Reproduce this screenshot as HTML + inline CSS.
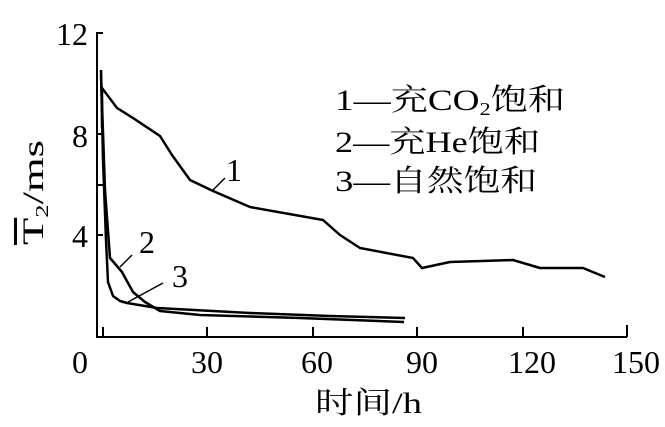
<!DOCTYPE html>
<html><head><meta charset="utf-8"><style>
html,body{margin:0;padding:0;background:#fff;}
svg{display:block;}
text{font-family:"Liberation Serif","Noto Serif CJK SC",serif;fill:#000;}
</style></head><body>
<svg width="665" height="427" viewBox="0 0 665 427" xmlns="http://www.w3.org/2000/svg">
<g stroke="#000" stroke-width="2" fill="none">
<polyline points="103,33 97,33 97,337 627,337"/>
<line x1="97" y1="134" x2="103" y2="134"/>
<line x1="97" y1="185" x2="103" y2="185"/>
<line x1="97" y1="235" x2="103" y2="235"/>
<line x1="103" y1="337" x2="103" y2="327"/>
<line x1="207" y1="337" x2="207" y2="327"/>
<line x1="313" y1="337" x2="313" y2="327"/>
<line x1="417" y1="337" x2="417" y2="327"/>
<line x1="523" y1="337" x2="523" y2="327"/>
<line x1="627" y1="337" x2="627" y2="325"/>
</g>
<g stroke="#000" stroke-width="2.5" fill="none" stroke-linejoin="round">
<polyline points="102,128 102,88 117,108 133,118 160,136 172,155 190,180 213,191 250,207 323,220 340,235 360,248 413,258 422,268 450,262 513,260 540,268 583,268 605,277"/>
<polyline points="101,70 103,160 106,240 108,282 113,296 120,301 127,303 157,308 250,313 330,316 405,318"/>
<polyline points="101,75 105,190 110,258 122,272 128,283 133,292 145,302 160,311 200,315 300,318 404,322"/>
</g>
<g stroke="#000" stroke-width="1.5">
<line x1="213" y1="190" x2="225" y2="178"/>
<line x1="120" y1="267" x2="132" y2="255"/>
<line x1="128" y1="302" x2="163" y2="283"/>
</g>
<g font-size="32">
<text x="88" y="45" text-anchor="end">12</text>
<text x="88" y="147" text-anchor="end">8</text>
<text x="88" y="247" text-anchor="end">4</text>
<text x="80" y="373" text-anchor="middle">0</text>
<text x="207" y="373" text-anchor="middle">30</text>
<text x="317" y="373" text-anchor="middle">60</text>
<text x="422" y="373" text-anchor="middle">90</text>
<text x="532" y="373" text-anchor="middle">120</text>
<text x="636" y="373" text-anchor="middle">150</text>
<text x="226" y="181">1</text>
<text x="139" y="253">2</text>
<text x="172" y="287">3</text>
</g>
<text x="315" y="413" font-size="30" textLength="107" lengthAdjust="spacingAndGlyphs">时间/h</text>
<text transform="translate(43,245) rotate(-90)" font-size="30" textLength="105" lengthAdjust="spacingAndGlyphs"><tspan text-decoration="overline">T</tspan><tspan font-size="18" dy="5">2</tspan><tspan dy="-5">/ms</tspan></text>
<g font-size="30">
<text x="335" y="110" textLength="230" lengthAdjust="spacingAndGlyphs">1—充CO<tspan font-size="18" dy="5">2</tspan><tspan dy="-5">饱和</tspan></text>
<text x="335" y="152" textLength="205" lengthAdjust="spacingAndGlyphs">2—充He饱和</text>
<text x="335" y="191" textLength="202" lengthAdjust="spacingAndGlyphs">3—自然饱和</text>
</g>
</svg>
</body></html>
